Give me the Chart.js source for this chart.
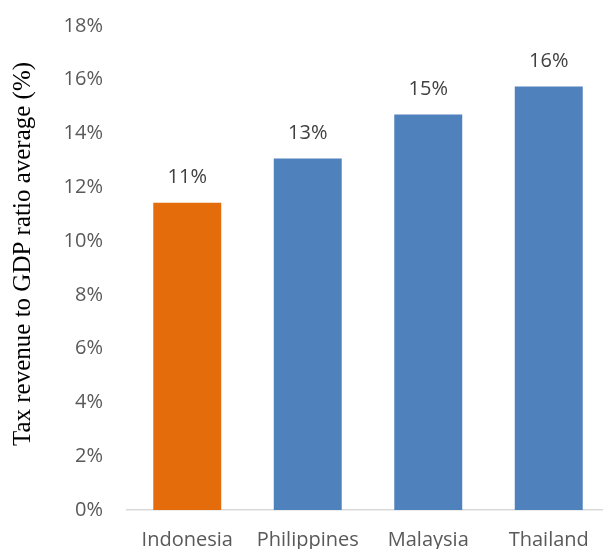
<!DOCTYPE html>
<html lang="en">
<head>
    <meta charset="UTF-8">
    <title>Tax revenue to GDP ratio average</title>
    <script src="https://cdn.jsdelivr.net/npm/chart.js"></script>
    <style>
        body {
            margin: 0;
            padding: 0;
            background: #ffffff;
            overflow: hidden;
        }

        .chart-box {
            width: 612px;
            height: 549px;
        }
    </style>
</head>
<body>
    <div class="chart-box">
        <canvas id="taxChart" width="612" height="549"></canvas>
    </div>

    <script>
        // Average tax revenue as a share of GDP, in percent
        const countries = ['Indonesia', 'Philippines', 'Malaysia', 'Thailand'];
        const taxRatio = [11.43, 13.07, 14.71, 15.75];
        const barColors = ['#E46C0A', '#4F81BD', '#4F81BD', '#4F81BD'];
        const yTicks = [0, 2, 4, 6, 8, 10, 12, 14, 16, 18];
        const yTitle = 'Tax revenue to GDP ratio average (%)';

        const labelFont = { family: "'Open Sans', sans-serif", size: 20 };

        // writes the rounded percentage above each bar
        const valueLabels = {
            id: 'valueLabels',
            afterDatasetsDraw(chart) {
                const ctx = chart.ctx;
                const meta = chart.getDatasetMeta(0);
                ctx.save();
                ctx.font = `${labelFont.size}px ${labelFont.family}`;
                ctx.fillStyle = '#404040';
                ctx.textAlign = 'center';
                ctx.textBaseline = 'middle';
                meta.data.forEach((bar, i) => {
                    ctx.fillText(Math.round(taxRatio[i]) + '%', bar.x, bar.y - 25);
                });
                ctx.restore();
            }
        };

        // vertical axis title, sitting a little above the plot's middle
        const sideTitle = {
            id: 'sideTitle',
            afterDraw(chart) {
                const ctx = chart.ctx;
                const area = chart.chartArea;
                ctx.save();
                ctx.translate(23, (area.top + area.bottom) / 2 - 14);
                ctx.rotate(-Math.PI / 2);
                ctx.font = "25px 'Liberation Serif', serif";
                ctx.fillStyle = '#000000';
                ctx.textAlign = 'center';
                ctx.textBaseline = 'middle';
                ctx.fillText(yTitle, 0, 0);
                ctx.restore();
            }
        };

        const ctxTax = document.getElementById('taxChart').getContext('2d');
        new Chart(ctxTax, {
            type: 'bar',
            data: {
                labels: countries,
                datasets: [
                    {
                        data: taxRatio,
                        backgroundColor: barColors,
                        borderWidth: 0,
                        categoryPercentage: 1,
                        barPercentage: 0.564
                    }
                ]
            },
            options: {
                responsive: false,
                animation: false,
                layout: {
                    padding: { top: 26, right: 3, bottom: 0, left: 0 }
                },
                plugins: {
                    legend: { display: false },
                    tooltip: { enabled: false }
                },
                scales: {
                    x: {
                        grid: { display: false, drawTicks: false },
                        border: { display: true, color: '#D9D9D9', width: 1.5 },
                        ticks: {
                            color: '#595959',
                            font: labelFont,
                            padding: 18,
                            maxRotation: 0,
                            autoSkip: false
                        },
                        afterFit(scale) {
                            scale.height = 39;
                        }
                    },
                    y: {
                        min: 0,
                        max: 18,
                        grid: { display: false, drawTicks: false },
                        border: { display: false },
                        afterBuildTicks(scale) {
                            scale.ticks = yTicks.map(v => ({ value: v }));
                        },
                        ticks: {
                            color: '#595959',
                            font: labelFont,
                            padding: 24,
                            callback: v => v + '%'
                        },
                        afterFit(scale) {
                            scale.width = 127;
                            // tick padding is horizontal here, keep it out of the vertical room
                            scale.paddingTop = 12;
                            scale.paddingBottom = 12;
                        }
                    }
                }
            },
            plugins: [valueLabels, sideTitle]
        });
    </script>
</body>
</html>
